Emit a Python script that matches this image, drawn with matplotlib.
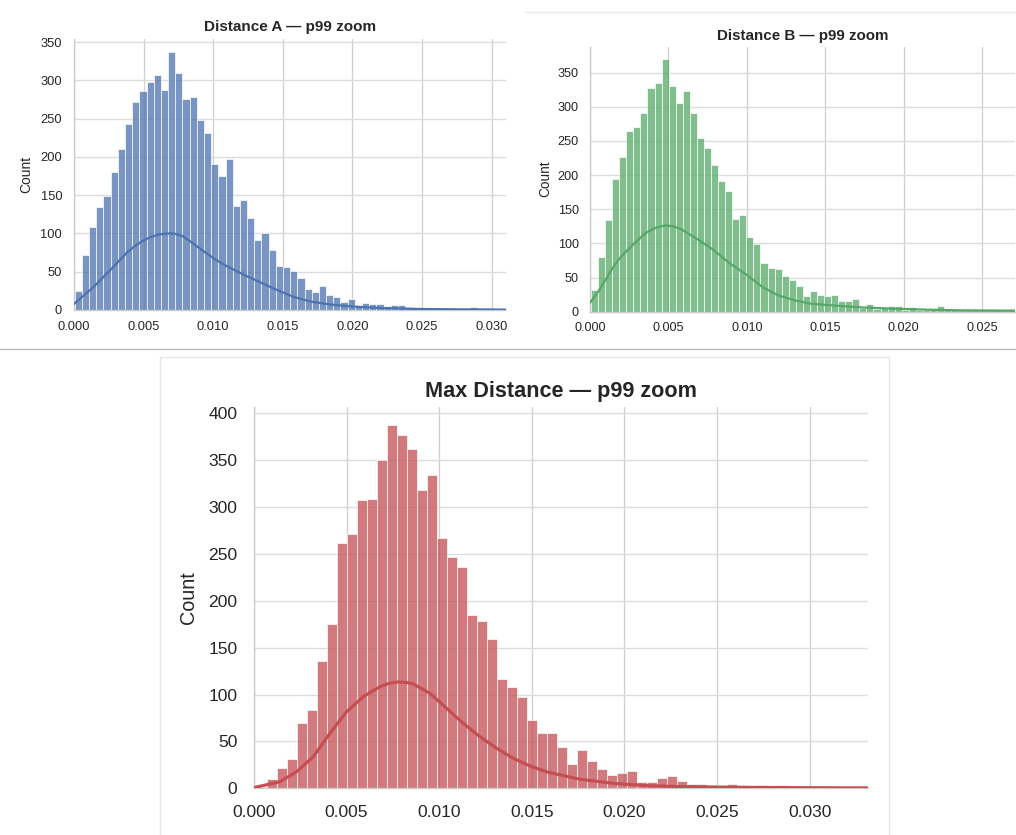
import numpy as np
import matplotlib
matplotlib.use("Agg")
import matplotlib.pyplot as plt
from matplotlib.lines import Line2D
from matplotlib.patches import Rectangle

plt.rcParams["font.family"] = ["Liberation Sans", "DejaVu Sans"]

# ---------------- data ----------------
# Distance A: 60 bins
a_bin_start = 0.00005
a_bin_width = 0.000516
a_counts = [25, 72, 108, 135, 149, 180, 210, 243, 272, 286,
            298, 307, 288, 337, 309, 276, 278, 248, 231, 191,
            175, 197, 136, 144, 120, 92, 100, 78, 57, 56,
            51, 42, 28, 23, 31, 20, 17, 11, 15, 6,
            9, 8, 8, 5, 6, 6, 4, 2, 3, 1,
            1, 3, 1, 1, 1, 4, 2, 2, 1, 1]
a_kde_x = [0.0000, 0.0007, 0.0014, 0.0020, 0.0026, 0.0032, 0.0038, 0.0044,
           0.0050, 0.0056, 0.0062, 0.0067, 0.0072, 0.0078, 0.0084, 0.0090,
           0.0096, 0.0102, 0.0110, 0.0122, 0.0134, 0.0146, 0.0158, 0.0170,
           0.0185, 0.0200, 0.0220, 0.0250, 0.0280, 0.0310]
a_kde_y = [8, 19, 30, 41, 52, 63.5, 75, 84,
           91, 96, 99, 100, 99.8, 96.5, 89, 81,
           73, 65.5, 57, 46, 36, 26, 17, 11,
           7, 4.5, 2.5, 1.3, 0.8, 0.5]

# Distance B: 60 bins
b_bin_start = 0.00006
b_bin_width = 0.0004505
b_counts = [32, 80, 134, 194, 227, 264, 271, 291, 327, 335,
            370, 330, 305, 323, 291, 255, 240, 215, 192, 176,
            135, 142, 109, 99, 72, 64, 63, 52, 46, 37,
            23, 30, 24, 23, 24, 15, 15, 18, 6, 11,
            4, 7, 9, 9, 3, 7, 3, 2, 4, 8,
            3, 4, 2, 2, 2, 2, 2, 2, 2, 4]
b_kde_x = [0.0000, 0.0006, 0.0015, 0.0020, 0.0026, 0.0031, 0.0036, 0.0042,
           0.0048, 0.0053, 0.0058, 0.0063, 0.0068, 0.0079, 0.0089, 0.0100,
           0.0110, 0.0120, 0.0130, 0.0140, 0.0151, 0.0172, 0.0193, 0.0215,
           0.0236, 0.0271]
b_kde_y = [13, 32, 66, 81, 95, 106, 116, 123,
           126.5, 125, 121, 114, 107, 90, 71, 54,
           36, 24, 17, 12, 9.8, 6.4, 4.4, 3,
           2, 1.5]

# Max Distance: 61 bins
c_bin_start = 0.00018
c_bin_width = 0.00054
c_counts = [1, 10, 22, 31, 70, 84, 136, 175, 262, 271,
            308, 309, 350, 388, 377, 362, 318, 334, 267, 247,
            236, 185, 178, 159, 117, 108, 97, 73, 59, 59,
            44, 26, 41, 29, 21, 14, 16, 18, 7, 7,
            11, 13, 8, 5, 5, 3, 4, 5, 4, 2,
            4, 2, 3, 1, 1, 1, 1, 1, 1, 1, 1]
c_kde_x = [0.0000, 0.0014, 0.0023, 0.0032, 0.0041, 0.0050, 0.0059, 0.0068,
           0.0073, 0.0078, 0.0082, 0.0086, 0.0095, 0.0104, 0.0113, 0.0122,
           0.0131, 0.0140, 0.0149, 0.0158, 0.0176, 0.0194, 0.0212, 0.0230,
           0.0260, 0.0300, 0.0331]
c_kde_y = [0.7, 7, 17.7, 33.7, 58.6, 81.7, 97.7, 108.4,
           112, 113.4, 113, 111.3, 101.3, 85.3, 69.3, 55,
           42.7, 32, 23.8, 17.5, 9.6, 5.3, 2.8, 1.8,
           1.0, 0.6, 0.4]

a_xticks = [0.000, 0.005, 0.010, 0.015, 0.020, 0.025, 0.030]
a_yticks = [0, 50, 100, 150, 200, 250, 300, 350]
b_xticks = [0.000, 0.005, 0.010, 0.015, 0.020, 0.025]
b_yticks = [0, 50, 100, 150, 200, 250, 300, 350]
c_xticks = [0.000, 0.005, 0.010, 0.015, 0.020, 0.025, 0.030]
c_yticks = [0, 50, 100, 150, 200, 250, 300, 350, 400]

BLUE = "#4C72B0"
GREEN = "#55A868"
RED = "#C44E52"
TEXT = "#262626"

W, H = 1016, 835
fig = plt.figure(figsize=(W / 100, H / 100), dpi=100)
fig.patch.set_facecolor("white")


def px_axes(left, top, right, bottom):
    return fig.add_axes([left / W, 1 - bottom / H, (right - left) / W, (bottom - top) / H])


def draw_panel(ax, start, width, counts, kx, ky, color, title, xticks, yticks,
               xlim, ylim, tick_fs, label_fs, title_fs, lw_kde,
               xpad, ypad, labelpad, titlepad):
    edges = start + width * np.arange(len(counts))
    ax.bar(edges, counts, width=width, align="edge",
           color=matplotlib.colors.to_rgba(color, 0.75),
           edgecolor=(1, 1, 1, 0.8), linewidth=0.6, zorder=2)
    ax.plot(kx, ky, color=color, lw=lw_kde, zorder=3, solid_capstyle="round")
    ax.set_xlim(*xlim)
    ax.set_ylim(*ylim)
    ax.set_xticks(xticks)
    ax.set_xticklabels([f"{t:.3f}" for t in xticks])
    ax.set_yticks(yticks)
    ax.set_yticklabels([str(t) for t in yticks])
    ax.set_axisbelow(True)
    ax.yaxis.grid(True, color="#dcdcdc", lw=1.0, zorder=0)
    ax.xaxis.grid(True, color="#cfcfcf", lw=0.9, zorder=0)
    for s in ("top", "right"):
        ax.spines[s].set_visible(False)
    for s in ("left", "bottom"):
        ax.spines[s].set_color("#cccccc")
        ax.spines[s].set_linewidth(1.0)
    ax.tick_params(axis="x", length=0, pad=xpad, labelsize=tick_fs, labelcolor=TEXT)
    ax.tick_params(axis="y", length=0, pad=ypad, labelsize=tick_fs, labelcolor=TEXT)
    ax.set_ylabel("Count", fontsize=label_fs, color=TEXT, labelpad=labelpad)
    ax.set_title(title, fontsize=title_fs, fontweight="bold", color=TEXT, pad=titlepad)
    ax.set_facecolor("white")


ax_a = px_axes(74, 39, 506, 310)
draw_panel(ax_a, a_bin_start, a_bin_width, a_counts, a_kde_x, a_kde_y, BLUE,
           "Distance A \u2014 p99 zoom", a_xticks, a_yticks,
           (0, 0.03103), (0, 354), 9.3, 10, 11, 1.6, 8.0, 8.5, 5, 5.5)

ax_b = px_axes(590, 46.7, 1015, 311.7)
draw_panel(ax_b, b_bin_start, b_bin_width, b_counts, b_kde_x, b_kde_y, GREEN,
           "Distance B \u2014 p99 zoom", b_xticks, b_yticks,
           (0, 0.02711), (0, 388), 9.1, 9.8, 10.9, 1.6, 7.2, 8.0, 4, 5.0)

ax_c = px_axes(254, 406.7, 868, 788.3)
draw_panel(ax_c, c_bin_start, c_bin_width, c_counts, c_kde_x, c_kde_y, RED,
           "Max Distance \u2014 p99 zoom", c_xticks, c_yticks,
           (0, 0.03315), (0, 407), 12.6, 14.2, 15.6, 2.3, 12.0, 12.0, 7, 7.0)

# panel frames and separator
fig.add_artist(Line2D([0, 1], [1 - 349 / H, 1 - 349 / H], color="#bdbdbd", lw=1.0))
fig.add_artist(Line2D([525 / W, 1], [1 - 12 / H, 1 - 12 / H], color="#ebebeb", lw=1.0))
fig.add_artist(Rectangle((160 / W, -0.01), (889 - 160) / W, 1 - 357 / H + 0.01,
                         fill=False, edgecolor="#e8e8e8", lw=1.0))

fig.savefig("out.png", dpi=100, facecolor="white")
